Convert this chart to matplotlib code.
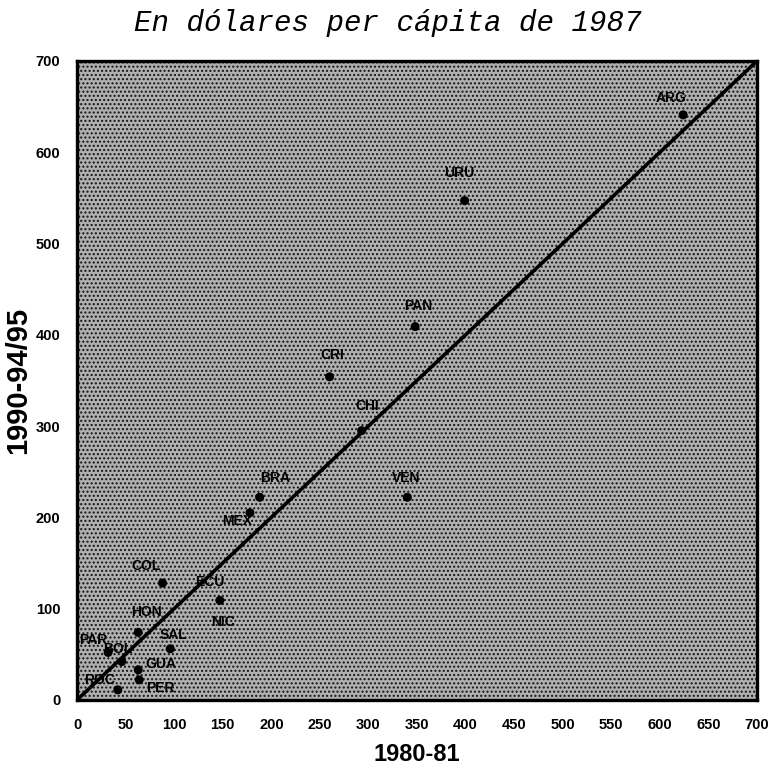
import numpy as np
import matplotlib
matplotlib.use('Agg')
import matplotlib.pyplot as plt
import matplotlib.ticker as tick
from matplotlib.patches import Rectangle

# valores (dolares per capita de 1987)
paises = ['ARG', 'URU', 'PAN', 'CRI', 'CHI', 'VEN', 'BRA', 'MEX', 'COL', 'ECU',
          'NIC', 'HON', 'SAL', 'PAR', 'BOL', 'GUA', 'ROC', 'PER']
x_8081 = [624, 399, 348, 260, 293, 340, 188, 178, 88, 147,
          150, 63, 96, 32, 46, 63, 42, 64]
y_9095 = [641, 547, 409, 354, 295, 222, 222, 205, 128, 109,
          85, 74, 56, 52, 42, 33, 11, 22]
# desplazamiento de las etiquetas en puntos
offs = [(-9, 12), (-4, 20), (2, 15), (2, 16), (4, 18), (-1, 14), (11, 14), (-9, -6), (-12, 12), (-7, 13),
        (0, 0), (6, 15), (2, 10), (-11, 9), (-3, 9), (16, 4), (-13, 7), (15, -6)]
# NIC: el punto queda tapado por la etiqueta
tam = [30 if p != 'NIC' else 0 for p in paises]

fig = plt.figure(figsize=(7.75, 7.82), dpi=100)
ax = fig.add_axes([0.0994, 0.105, 0.8774, 0.8170])
ax.set_xlim(0, 700)
ax.set_ylim(0, 700)
ax.set_facecolor('white')

# fondo punteado
ax.add_patch(Rectangle((0, 0), 700, 700, facecolor='#b0b0b0', edgecolor='#141414',
                       hatch='....', lw=0, zorder=0))

ax.plot([0, 700], [0, 700], color='black', lw=2.6, zorder=2)
ax.scatter(x_8081, y_9095, s=tam, color='black', zorder=3)

for p, x, y, o in zip(paises, x_8081, y_9095, offs):
    ax.annotate(p, (x, y), xytext=o, textcoords='offset points', ha='center', va='center',
                fontsize=10, fontweight='bold', family='Liberation Sans', zorder=4)

ax.xaxis.set_major_locator(tick.MultipleLocator(50))
ax.yaxis.set_major_locator(tick.MultipleLocator(100))
ax.tick_params(length=0, labelsize=10.5)
ax.tick_params(axis='x', pad=13)
ax.tick_params(axis='y', pad=12)
for lab in ax.get_xticklabels() + ax.get_yticklabels():
    lab.set_fontweight('bold')
    lab.set_family('Liberation Sans')
for s in ax.spines.values():
    s.set_linewidth(2.4)

ax.set_xlabel('1980-81', fontsize=17, fontweight='bold', family='Liberation Sans')
ax.set_ylabel('1990-94/95', fontsize=21, fontweight='bold', family='Liberation Sans')
ax.xaxis.set_label_coords(0.5, -0.068)
ax.yaxis.set_label_coords(-0.066, 0.5)
fig.text(0.5, 0.970, 'En dólares per cápita de 1987', ha='center', va='center',
         fontsize=21, family='Liberation Mono', style='italic')

fig.savefig('out.png', dpi=100)
